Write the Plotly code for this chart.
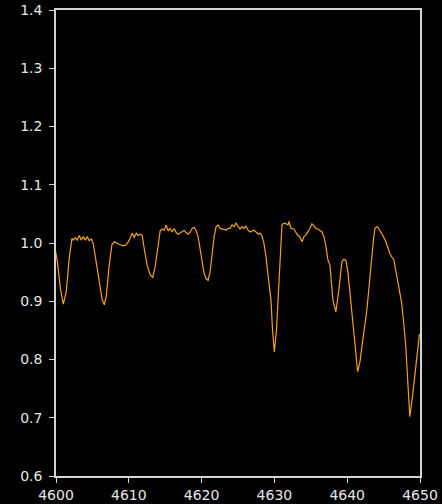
import plotly.graph_objects as go

wavelength = [
    4599.8, 4600.0, 4600.22, 4600.59, 4601.00, 4601.41, 4601.82, 4602.19, 4602.37, 4602.65,
    4602.92, 4603.20, 4603.47, 4603.74, 4604.02, 4604.29, 4604.57, 4604.84, 4605.12, 4605.53,
    4605.94, 4606.35, 4606.63, 4606.90, 4607.31, 4607.68, 4608.00, 4608.41, 4608.82, 4609.23,
    4609.64, 4609.92, 4610.19, 4610.47, 4610.74, 4611.02, 4611.29, 4611.56, 4611.84, 4612.11,
    4612.52, 4612.94, 4613.28, 4613.62, 4614.03, 4614.31, 4614.58, 4614.86, 4615.13, 4615.40,
    4615.68, 4615.95, 4616.23, 4616.50, 4616.78, 4617.05, 4617.32, 4617.60, 4617.87, 4618.15,
    4618.42, 4618.70, 4618.97, 4619.25, 4619.52, 4619.79, 4620.07, 4620.34, 4620.62, 4620.89,
    4621.17, 4621.44, 4621.72, 4621.99, 4622.26, 4622.54, 4622.81, 4623.09, 4623.36, 4623.64,
    4623.91, 4624.18, 4624.46, 4624.73, 4625.01, 4625.28, 4625.56, 4625.83, 4626.10, 4626.38,
    4626.65, 4626.93, 4627.20, 4627.48, 4627.75, 4628.02, 4628.30, 4628.57, 4628.85, 4629.12,
    4629.53, 4629.74, 4629.99, 4630.29, 4630.56, 4630.84, 4631.04, 4631.18, 4631.45, 4631.87,
    4632.00, 4632.28, 4632.69, 4633.10, 4633.51, 4633.79, 4634.06, 4634.34, 4634.61, 4634.88,
    4635.16, 4635.43, 4635.71, 4635.98, 4636.26, 4636.53, 4636.80, 4637.08, 4637.35, 4637.63,
    4638.04, 4638.45, 4638.86, 4639.27, 4639.55, 4639.82, 4640.10, 4640.37, 4640.71, 4641.06,
    4641.43, 4641.74, 4642.02, 4642.36, 4642.70, 4643.04, 4643.35, 4643.60, 4643.80, 4644.08,
    4644.28, 4644.49, 4644.90, 4645.31, 4645.58, 4645.86, 4646.13, 4646.41, 4646.68, 4646.96,
    4647.23, 4647.50, 4647.78, 4648.05, 4648.33, 4648.60, 4648.95, 4649.29, 4649.63, 4649.93,
]

flux = [
    0.990, 0.982, 0.965, 0.923, 0.895, 0.916, 0.974, 1.008, 1.005, 1.009,
    1.005, 1.013, 1.005, 1.011, 1.005, 1.011, 1.004, 1.007, 0.999, 0.968,
    0.934, 0.902, 0.894, 0.908, 0.962, 0.997, 1.002, 0.999, 0.997, 0.995,
    0.997, 1.002, 1.008, 1.017, 1.009, 1.017, 1.013, 1.015, 1.013, 0.991,
    0.962, 0.945, 0.941, 0.959, 0.994, 1.021, 1.024, 1.022, 1.031, 1.021,
    1.025, 1.019, 1.025, 1.018, 1.015, 1.017, 1.019, 1.022, 1.018, 1.015,
    1.019, 1.025, 1.027, 1.021, 1.011, 0.988, 0.965, 0.948, 0.939, 0.936,
    0.951, 0.982, 1.011, 1.028, 1.031, 1.025, 1.024, 1.024, 1.022, 1.025,
    1.025, 1.031, 1.028, 1.034, 1.028, 1.024, 1.028, 1.025, 1.029, 1.022,
    1.019, 1.021, 1.022, 1.019, 1.015, 1.017, 1.012, 0.999, 0.976, 0.945,
    0.902, 0.851, 0.813, 0.851, 0.919, 0.988, 1.031, 1.033, 1.034, 1.031,
    1.037, 1.025, 1.024, 1.015, 1.010, 1.002, 1.011, 1.014, 1.019, 1.025,
    1.033, 1.028, 1.025, 1.024, 1.022, 1.019, 1.011, 0.994, 0.971, 0.962,
    0.902, 0.882, 0.920, 0.968, 0.972, 0.970, 0.950, 0.919, 0.870, 0.828,
    0.779, 0.795, 0.822, 0.850, 0.885, 0.930, 0.976, 1.005, 1.025, 1.028,
    1.026, 1.022, 1.013, 1.002, 0.990, 0.982, 0.976, 0.971, 0.952, 0.931,
    0.915, 0.896, 0.860, 0.822, 0.760, 0.702, 0.735, 0.770, 0.810, 0.844,
]

x_ticks = [4600, 4610, 4620, 4630, 4640, 4650]
y_ticks = [0.6, 0.7, 0.8, 0.9, 1.0, 1.1, 1.2, 1.3, 1.4]

fig = go.Figure()
fig.add_trace(go.Scatter(
    x=wavelength, y=flux, mode="lines",
    line=dict(color="#f5a01e", width=1.2),
    hoverinfo="skip", showlegend=False,
))

axis_color = "#d4d4d4"
common = dict(
    showline=True, linecolor=axis_color, linewidth=1.5, mirror=True,
    showgrid=False, zeroline=False, automargin=False,
    ticks="outside", ticklen=5, tickwidth=1.2, tickcolor=axis_color,
    tickfont=dict(family="DejaVu Sans", size=14, color="#e6e6e6"),
)
fig.update_xaxes(range=[4600, 4650], tickvals=x_ticks,
                 ticktext=[str(v) for v in x_ticks], **common)
fig.update_yaxes(range=[0.6, 1.4], tickvals=y_ticks,
                 ticktext=[f"{v:.1f}" for v in y_ticks],
                 ticklabelstandoff=4, **common)

fig.update_layout(
    width=442, height=504,
    margin=dict(l=56, r=22, t=10, b=28),
    paper_bgcolor="black", plot_bgcolor="black",
)

fig.write_html("out.html")
